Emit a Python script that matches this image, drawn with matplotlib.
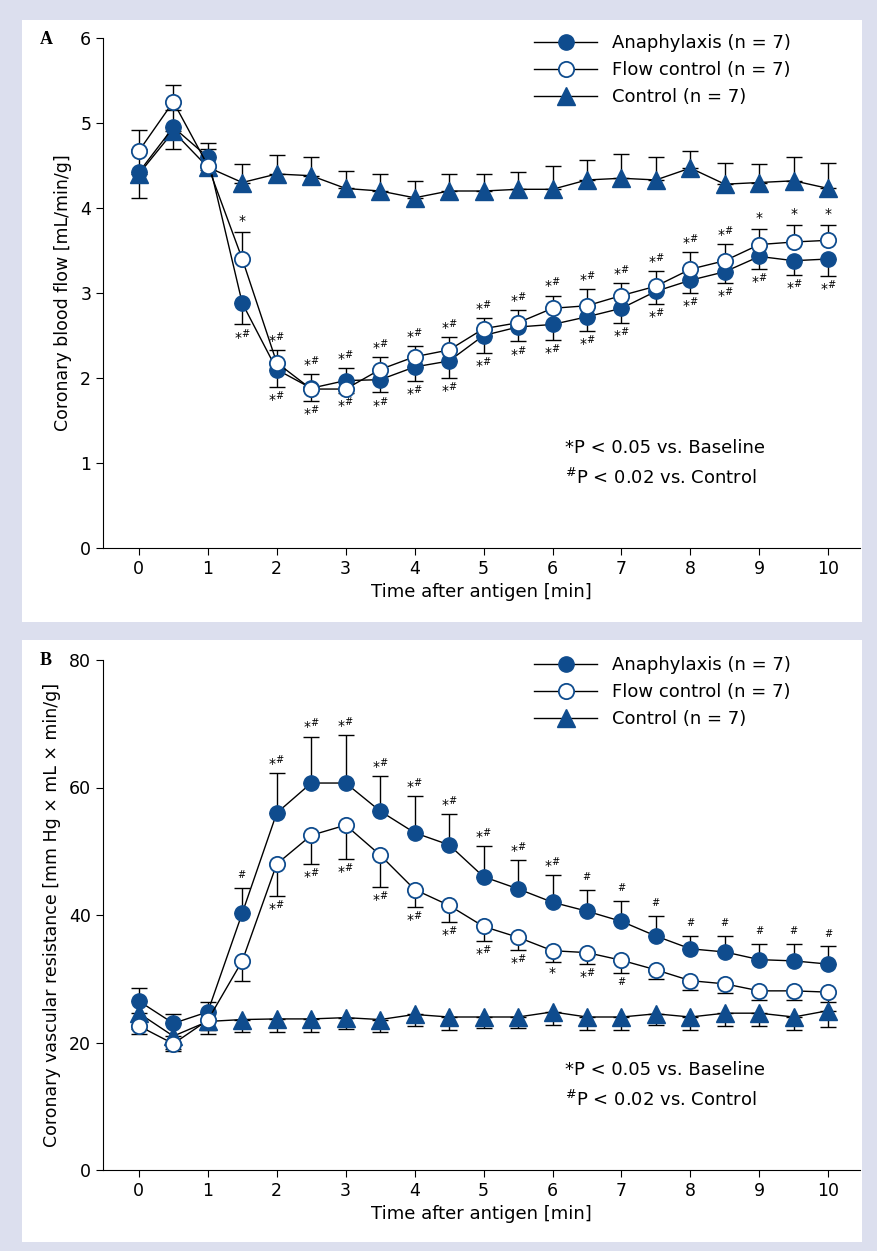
import matplotlib
matplotlib.use("Agg")
import matplotlib.pyplot as plt
from matplotlib.patches import Rectangle
from matplotlib.lines import Line2D

plt.rcParams['font.family'] = ['Liberation Sans Narrow', 'DejaVu Sans']
t = [0, 0.5, 1, 1.5, 2, 2.5, 3, 3.5, 4, 4.5, 5, 5.5, 6, 6.5, 7, 7.5, 8, 8.5, 9, 9.5, 10]

A_ana = [4.42, 4.95, 4.6, 2.88, 2.1, 1.88, 1.97, 1.98, 2.13, 2.2, 2.5, 2.6, 2.63, 2.72, 2.82, 3.02, 3.15, 3.25, 3.43, 3.38, 3.4]
A_ana_err = [0.3, 0.25, 0.15, 0.25, 0.2, 0.15, 0.15, 0.15, 0.17, 0.2, 0.2, 0.17, 0.18, 0.17, 0.17, 0.15, 0.15, 0.13, 0.15, 0.17, 0.2]
A_flow = [4.67, 5.25, 4.5, 3.4, 2.18, 1.87, 1.87, 2.1, 2.25, 2.33, 2.58, 2.65, 2.82, 2.85, 2.97, 3.08, 3.28, 3.38, 3.57, 3.6, 3.62]
A_flow_err = [0.25, 0.2, 0.2, 0.32, 0.15, 0.18, 0.25, 0.15, 0.13, 0.15, 0.13, 0.15, 0.15, 0.2, 0.15, 0.18, 0.2, 0.2, 0.18, 0.2, 0.18]
A_ctrl = [4.4, 4.9, 4.48, 4.3, 4.4, 4.38, 4.23, 4.2, 4.12, 4.2, 4.2, 4.22, 4.22, 4.33, 4.35, 4.33, 4.47, 4.28, 4.3, 4.32, 4.23]
A_ctrl_err = [0.3, 0.25, 0.28, 0.22, 0.22, 0.22, 0.2, 0.2, 0.2, 0.2, 0.2, 0.2, 0.27, 0.23, 0.28, 0.27, 0.2, 0.25, 0.22, 0.28, 0.3]
A_top = ["", "", "", "*", "*#", "*#", "*#", "*#", "*#", "*#", "*#", "*#", "*#", "*#", "*#", "*#", "*#", "*#", "*", "*", "*"]
A_bot = ["", "", "", "*#", "*#", "*#", "*#", "*#", "*#", "*#", "*#", "*#", "*#", "*#", "*#", "*#", "*#", "*#", "*#", "*#", "*#"]

B_ana = [26.5, 23, 24.8, 40.3, 56, 60.7, 60.7, 56.3, 52.9, 51, 46, 44.1, 42, 40.6, 39, 36.7, 34.7, 34.2, 33, 32.8, 32.3]
B_ana_err = [2, 1.5, 1.5, 4, 6.3, 7.3, 7.5, 5.5, 5.7, 4.9, 4.8, 4.5, 4.3, 3.4, 3.2, 3.2, 2, 2.5, 2.5, 2.7, 2.8]
B_flow = [22.6, 19.8, 23.5, 32.8, 48, 52.5, 54.1, 49.4, 44, 41.5, 38.2, 36.5, 34.4, 34.1, 32.9, 31.4, 29.7, 29.2, 28.1, 28.1, 27.9]
B_flow_err = [1.2, 1.2, 1.5, 3.2, 5, 4.5, 5.3, 5, 2.7, 2.6, 2.2, 2, 1.8, 1.8, 2, 1.5, 1.5, 1.5, 1.5, 1.5, 1.5]
B_ctrl = [24.6, 21, 23.3, 23.6, 23.7, 23.7, 23.9, 23.6, 24.4, 24, 24, 24, 24.8, 24, 24, 24.5, 24, 24.6, 24.6, 24, 25]
B_ctrl_err = [2.5, 2, 2, 2, 2, 2, 1.8, 2, 1.8, 2, 1.8, 1.8, 2, 2, 2, 1.8, 2, 2, 2, 2, 2.5]
B_top = ["", "", "", "#", "*#", "*#", "*#", "*#", "*#", "*#", "*#", "*#", "*#", "#", "#", "#", "#", "#", "#", "#", "#"]
B_bot = ["", "", "", "", "*#", "*#", "*#", "*#", "*#", "*#", "*#", "*#", "*", "*#", "#", "", "", "", "", "", ""]

C = "#0f4c8e"
W, H = 877, 1251
fig = plt.figure(figsize=(W/100, H/100), dpi=100)
fig.patch.set_facecolor("#dcdfee")
for (x0, y0, x1, y1) in [(22, 20, 862, 622), (22, 640, 862, 1242)]:
    fig.add_artist(Rectangle((x0/W, 1-y1/H), (x1-x0)/W, (y1-y0)/H, transform=fig.transFigure,
                             facecolor="white", edgecolor="none", zorder=0))

def fmt(s):
    if s == "*#":
        return r"*$^{\#}$"
    if s == "#":
        return r"$^{\#}$"
    return s

def panel(rect, ana, ana_e, flow, flow_e, ctrl, ctrl_e, top, bot, top_series, ylim, yticks, ylabel, lab, laby, notey):
    ax = fig.add_axes(rect)
    ax.set_facecolor("white")
    ana_kind, flow_kind, ctrl_kind = top_series
    def eb(y, e, up):
        ax.errorbar(t, y, yerr=([0]*len(e), e) if up else (e, [0]*len(e)), fmt="none",
                    ecolor="black", elinewidth=1, capsize=6, capthick=1, zorder=2)
    eb(ana, ana_e, ana_kind); eb(flow, flow_e, flow_kind); eb(ctrl, ctrl_e, ctrl_kind)
    ax.plot(t, ctrl, "-^", color="black", lw=1, mfc=C, mec=C, ms=13, zorder=3)
    ax.plot(t, ana, "-o", color="black", lw=1, mfc=C, mec=C, ms=11, zorder=4)
    ax.plot(t, flow, "-o", color="black", lw=1, mfc="white", mec=C, mew=1.3, ms=11, zorder=5)
    ys = ylim[1] - ylim[0]
    for i, x in enumerate(t):
        if top[i]:
            yy, ee = (ana[i], ana_e[i]) if ana_kind else (flow[i], flow_e[i])
            ax.text(x, yy + ee + 0.008*ys, fmt(top[i]), ha="center", va="bottom", fontsize=10)
        if bot[i]:
            yy, ee = (flow[i], flow_e[i]) if ana_kind else (ana[i], ana_e[i])
            ax.text(x, yy - ee - 0.008*ys, fmt(bot[i]), ha="center", va="top", fontsize=10)
    ax.set_xlim(-0.52, 10.46)
    ax.set_ylim(*ylim)
    ax.set_xticks(range(11))
    ax.set_yticks(yticks)
    ax.tick_params(labelsize=12.5, length=5)
    for s in ["top", "right"]:
        ax.spines[s].set_visible(False)
    ax.set_xlabel("Time after antigen [min]", fontsize=13)
    ax.set_ylabel(ylabel, fontsize=12.5, labelpad=6)
    h = [Line2D([], [], color="black", lw=1, marker="o", mfc=C, mec=C, ms=11),
         Line2D([], [], color="black", lw=1, marker="o", mfc="white", mec=C, mew=1.3, ms=11),
         Line2D([], [], color="black", lw=1, marker="^", mfc=C, mec=C, ms=13)]
    ax.legend(h, ["Anaphylaxis (n = 7)", "Flow control (n = 7)", "Control (n = 7)"],
              loc="upper right", bbox_to_anchor=(0.93, 1.04), frameon=False, fontsize=13,
              handlelength=3.5, labelspacing=0.5)
    fig.text(40/W, 1-laby/H, lab, fontsize=13, fontweight="bold",
             family="Liberation Serif", va="center")
    fig.text(565/W, 1-notey/H, r"*P < 0.05 vs. Baseline", fontsize=13, va="center")
    fig.text(565/W, 1-(notey+30)/H, r"$^{\#}$P < 0.02 vs. Control", fontsize=13, va="center")
    return ax

panel([103/W, 1-548/H, 757/W, 510/H], A_ana, A_ana_err, A_flow, A_flow_err, A_ctrl, A_ctrl_err,
      A_top, A_bot, (False, True, True), (0, 6), range(7), "Coronary blood flow [mL/min/g]", "A", 40, 448)
panel([103/W, 1-1170/H, 757/W, 510/H], B_ana, B_ana_err, B_flow, B_flow_err, B_ctrl, B_ctrl_err,
      B_top, B_bot, (True, False, False), (0, 80), range(0, 81, 20),
      "Coronary vascular resistance [mm Hg × mL × min/g]", "B", 660, 1070)

fig.savefig("out.png", dpi=100, facecolor=fig.get_facecolor())
